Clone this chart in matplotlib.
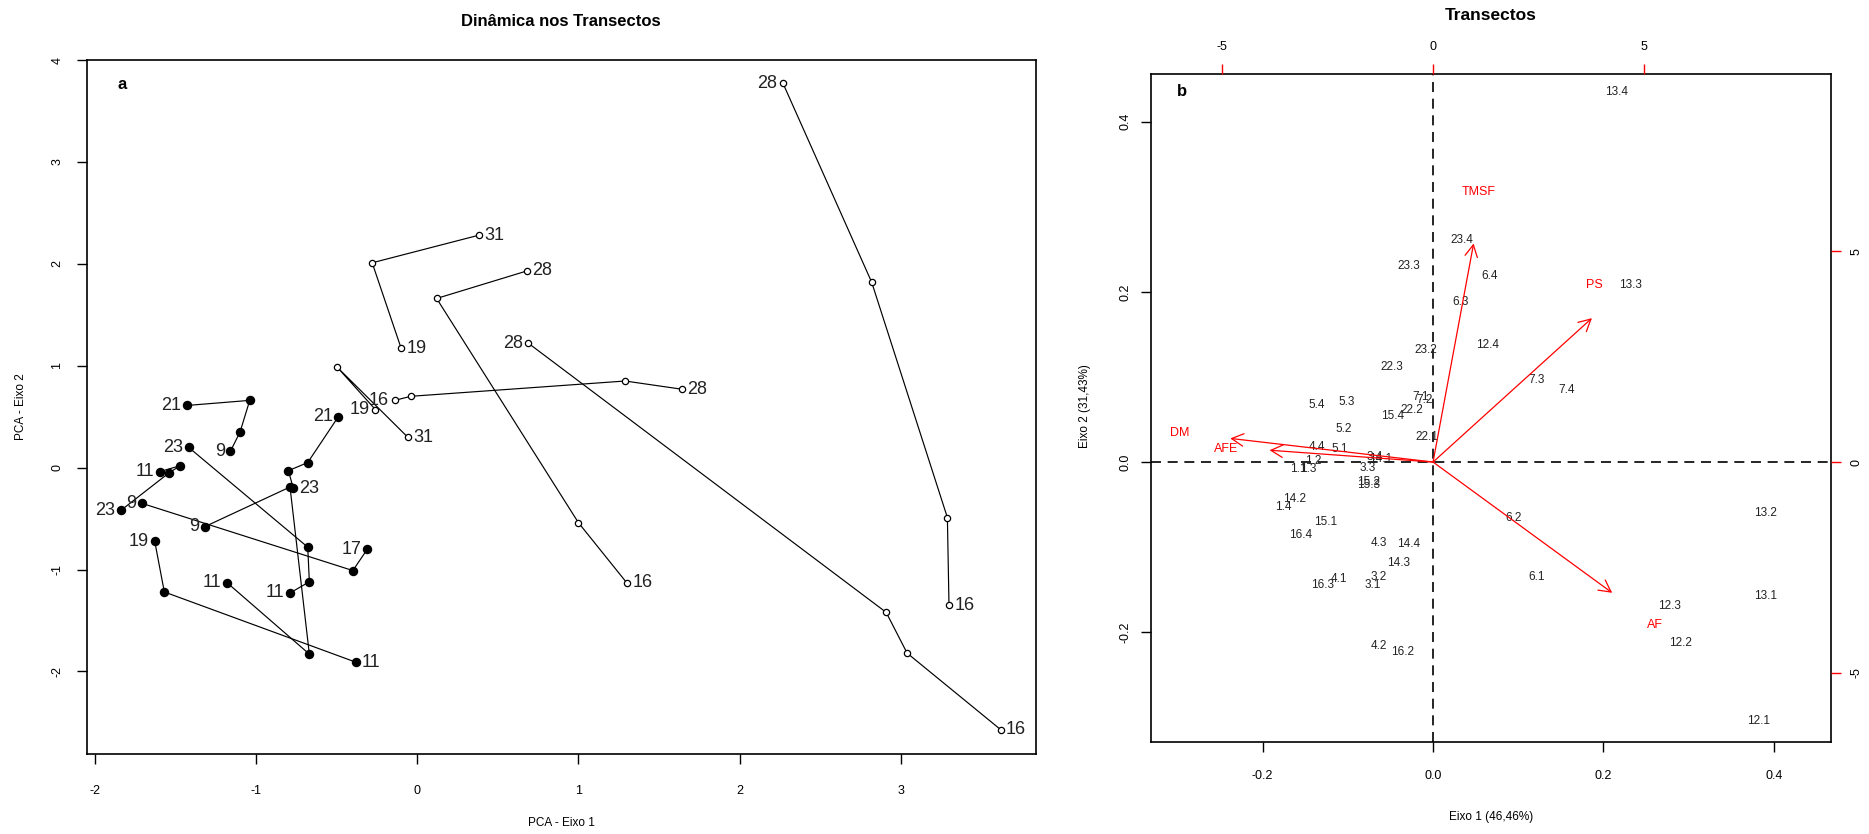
import matplotlib
matplotlib.use("Agg")
import matplotlib.pyplot as plt

plt.rcParams['font.family'] = ['Liberation Sans', 'DejaVu Sans']

# ---------------- Panel a : trajectories (PCA scores) ----------------
open_x = [
    [2.27, 2.82, 3.29, 3.30],
    [0.69, 2.91, 3.04, 3.62],
    [0.38, -0.28, -0.10],
    [0.68, 0.12, 1.00, 1.30],
    [-0.14, -0.04, 1.29, 1.64],
    [-0.26, -0.50, -0.06],
]
open_y = [
    [3.77, 1.82, -0.49, -1.35],
    [1.22, -1.42, -1.82, -2.57],
    [2.28, 2.01, 1.17],
    [1.93, 1.66, -0.54, -1.13],
    [0.66, 0.70, 0.85, 0.77],
    [0.57, 0.99, 0.30],
]
open_first = ['28', '28', '31', '28', '16', '19']
open_last = ['16', '16', '19', '16', '28', '31']
open_first_side = ['left', 'left', 'right', 'right', 'left', 'left']
open_last_side = ['right', 'right', 'right', 'right', 'right', 'right']

filled_x = [
    [-1.43, -1.04, -1.10, -1.16],
    [-1.60, -1.47, -1.54, -1.84],
    [-1.71, -0.40, -0.31],
    [-0.49, -0.68, -0.80, -0.77],
    [-1.32, -0.79, -0.67, -1.18],
    [-1.42, -0.68, -0.67, -0.79],
    [-1.63, -1.57, -0.38],
]
filled_y = [
    [0.61, 0.66, 0.35, 0.16],
    [-0.04, 0.02, -0.05, -0.42],
    [-0.35, -1.01, -0.80],
    [0.50, 0.05, -0.03, -0.20],
    [-0.58, -0.19, -1.83, -1.13],
    [0.20, -0.78, -1.12, -1.23],
    [-0.72, -1.22, -1.91],
]
filled_first = ['21', '11', '9', '21', '9', '23', '19']
filled_last = ['9', '23', '17', '23', '11', '11', '11']
filled_first_side = ['left'] * 7
filled_last_side = ['left', 'left', 'left', 'right', 'left', 'left', 'right']

a_xticks = [-2, -1, 0, 1, 2, 3]
a_yticks = [-2, -1, 0, 1, 2, 3, 4]

# ---------------- Panel b : biplot ----------------
sample_labels = ['13.4', '23.4', '6.4', '23.3', '6.3', '13.3', '12.4', '23.2', '22.3',
                 '7.3', '7.4', '7.1', '7.2', '22.2', '15.4', '5.4', '5.3', '5.2', '22.1',
                 '4.4', '5.1', '1.2', '1.1', '1.3', '3.4', '14.1', '3.3', '15.2', '15.3',
                 '14.2', '1.4', '15.1', '16.4', '4.3', '14.4', '14.3', '6.2', '13.2',
                 '6.1', '4.1', '16.3', '3.2', '3.1', '13.1', '12.3', '12.2', '4.2',
                 '16.2', '12.1']
sample_x = [0.215, 0.034, 0.066, -0.028, 0.032, 0.232, 0.064, -0.008, -0.048,
            0.122, 0.157, -0.015, -0.010, -0.025, -0.048, -0.137, -0.101, -0.105, -0.007,
            -0.136, -0.109, -0.141, -0.158, -0.147, -0.069, -0.062, -0.077, -0.076, -0.076,
            -0.162, -0.176, -0.126, -0.155, -0.064, -0.029, -0.041, 0.094, 0.390,
            0.122, -0.110, -0.130, -0.064, -0.071, 0.390, 0.278, 0.290, -0.063,
            -0.036, 0.382]
sample_y = [0.435, 0.261, 0.219, 0.230, 0.188, 0.208, 0.138, 0.132, 0.112,
            0.096, 0.085, 0.077, 0.073, 0.061, 0.054, 0.067, 0.071, 0.039, 0.029,
            0.018, 0.015, 0.001, -0.008, -0.008, 0.006, 0.004, -0.007, -0.024, -0.027,
            -0.043, -0.053, -0.070, -0.086, -0.095, -0.096, -0.119, -0.066, -0.060,
            -0.135, -0.138, -0.144, -0.135, -0.144, -0.158, -0.169, -0.213, -0.216,
            -0.223, -0.304]

var_names = ['TMSF', 'PS', 'AF', 'DM', 'AFE']
var_tip_x = [0.96, 3.76, 4.24, -4.80, -3.87]
var_tip_y = [5.18, 3.41, -3.10, 0.56, 0.28]
var_lab_x = [1.07, 3.82, 5.25, -6.00, -4.90]
var_lab_y = [6.39, 4.20, -3.86, 0.68, 0.31]

b_xticks = [-0.2, 0.0, 0.2, 0.4]
b_yticks = [-0.2, 0.0, 0.2, 0.4]
b_xticklabels = ['-0.2', '0.0', '0.2', '0.4']
b_yticklabels = ['-0.2', '0.0', '0.2', '0.4']
var_ticks = [-5, 0, 5]
var_scale = 20.17

# ---------------- Figure ----------------
W, H = 1869, 834
fig = plt.figure(figsize=(W / 100, H / 100), dpi=100)


def rect(x0, y0, x1, y1):
    return [x0 / W, 1 - y1 / H, (x1 - x0) / W, (y1 - y0) / H]


# ---- Panel a ----
ax = fig.add_axes(rect(87, 60, 1036, 754))
for xs, ys in zip(open_x, open_y):
    ax.plot(xs, ys, color='black', lw=0.85, marker='o', ms=4.5, mfc='white',
            mec='black', mew=0.9, zorder=2)
for xs, ys in zip(filled_x, filled_y):
    ax.plot(xs, ys, color='black', lw=0.85, marker='o', ms=5.8, mfc='black',
            mec='black', zorder=3)


def put_label(axis, x, y, txt, side, size):
    off = -4 if side == 'left' else 4
    ha = 'right' if side == 'left' else 'left'
    axis.annotate(txt, (x, y), xytext=(off, 0), textcoords='offset points',
                  ha=ha, va='center', fontsize=size, color='#222222', zorder=4)


for xs, ys, f, l, fs, ls in zip(open_x, open_y, open_first, open_last,
                                open_first_side, open_last_side):
    put_label(ax, xs[0], ys[0], f, fs, 13)
    put_label(ax, xs[-1], ys[-1], l, ls, 13)
for xs, ys, f, l, fs, ls in zip(filled_x, filled_y, filled_first, filled_last,
                                filled_first_side, filled_last_side):
    put_label(ax, xs[0], ys[0], f, fs, 13)
    put_label(ax, xs[-1], ys[-1], l, ls, 13)

ax.set_xlim(-2.05, 3.84)
ax.set_ylim(-2.81, 4.0)
ax.set_xticks(a_xticks)
ax.set_yticks(a_yticks)
ax.set_xticklabels([str(t) for t in a_xticks])
ax.set_yticklabels([str(t) for t in a_yticks])
ax.tick_params(axis='x', direction='out', length=7, width=1, labelsize=9, pad=15)
ax.tick_params(axis='y', direction='out', length=7, width=1, labelsize=9, pad=10,
               labelrotation=90)
for lab in ax.get_yticklabels():
    lab.set_va('center')
for s in ax.spines.values():
    s.set_linewidth(1.2)
ax.text(0.032, 0.965, 'a', transform=ax.transAxes, fontsize=12, fontweight='bold',
        ha='left', va='center')

fig.text(561 / W, 1 - 21 / H, 'Dinâmica nos Transectos', ha='center', va='center',
         fontsize=12, fontweight='bold')
fig.text(561 / W, 1 - 823 / H, 'PCA - Eixo 1', ha='center', va='center', fontsize=8.5)
fig.text(21 / W, 1 - 407 / H, 'PCA - Eixo 2', ha='center', va='center', fontsize=8.5,
         rotation=90)

# ---- Panel b ----
rb = rect(1151, 74, 1831, 742)
bx = fig.add_axes(rb)
bxlim = (-0.331, 0.467)
bylim = (-0.329, 0.456)
bx.set_xlim(*bxlim)
bx.set_ylim(*bylim)
for lab, x, y in zip(sample_labels, sample_x, sample_y):
    bx.text(x, y, lab, ha='center', va='center', fontsize=8.5, color='#222222')
bx.axhline(0, color='black', lw=1.2, ls=(0, (6, 4)), zorder=1)
bx.axvline(0, color='black', lw=1.2, ls=(0, (6, 4)), zorder=1)
bx.set_xticks(b_xticks)
bx.set_xticklabels(b_xticklabels)
bx.set_yticks(b_yticks)
bx.set_yticklabels(b_yticklabels)
bx.tick_params(axis='x', direction='out', length=7, width=1, labelsize=9, pad=13)
bx.tick_params(axis='y', direction='out', length=7, width=1, labelsize=9, pad=7,
               labelrotation=90)
for lab in bx.get_yticklabels():
    lab.set_va('center')
for s in bx.spines.values():
    s.set_linewidth(1.2)
bx.text(-0.295, 0.435, 'b', fontsize=12, fontweight='bold', ha='center', va='center')

vx = fig.add_axes(rb, frameon=False)
vx.patch.set_alpha(0)
vx.set_xlim(bxlim[0] * var_scale, bxlim[1] * var_scale)
vx.set_ylim(bylim[0] * var_scale, bylim[1] * var_scale)
vx.xaxis.tick_top()
vx.yaxis.tick_right()
vx.set_xticks(var_ticks)
vx.set_yticks(var_ticks)
vx.set_xticklabels([str(t) for t in var_ticks])
vx.set_yticklabels([str(t) for t in var_ticks])
vx.tick_params(axis='x', direction='out', length=7, width=1, color='red',
               labelsize=9, pad=8, labelcolor='black')
vx.tick_params(axis='y', direction='out', length=7, width=1, color='red',
               labelsize=9, pad=7, labelcolor='black', labelrotation=90)
for lab in vx.get_yticklabels():
    lab.set_va('center')
for name, tx, ty, lx, ly in zip(var_names, var_tip_x, var_tip_y, var_lab_x, var_lab_y):
    vx.annotate('', xy=(tx, ty), xytext=(0, 0),
                arrowprops=dict(arrowstyle='->,head_length=0.85,head_width=0.45',
                                color='red', lw=0.9, shrinkA=0, shrinkB=0,
                                mutation_scale=10))
    vx.text(lx, ly, name, color='red', fontsize=9, ha='center', va='center')

fig.text(1491 / W, 1 - 15 / H, 'Transectos', ha='center', va='center',
         fontsize=12.5, fontweight='bold')
fig.text(1491 / W, 1 - 817 / H, 'Eixo 1 (46,46%)', ha='center', va='center', fontsize=8.5)
fig.text(1085 / W, 1 - 406 / H, 'Eixo 2 (31,43%)', ha='center', va='center',
         fontsize=8.5, rotation=90)

fig.savefig('out.png', dpi=100)
